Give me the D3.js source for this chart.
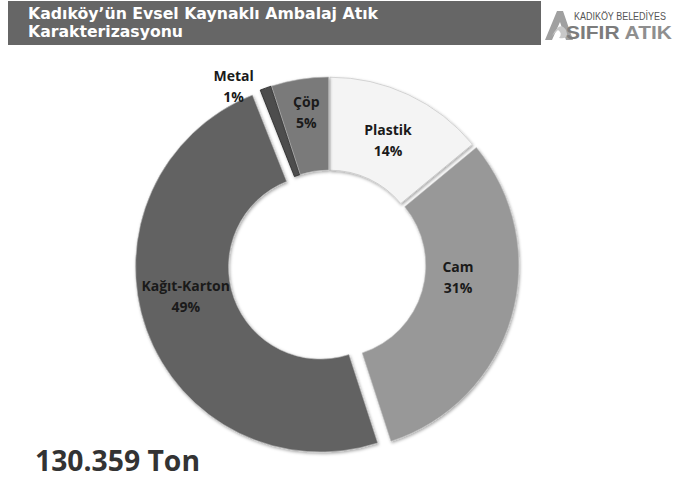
<!DOCTYPE html>
<html><head><meta charset="utf-8">
<script src="https://cdn.jsdelivr.net/npm/d3@7/dist/d3.min.js"></script>
<style>body{margin:0;background:#fff}svg{display:block}</style>
</head><body>
<script>
const categories = ["Plastik", "Cam", "Kağıt-Karton", "Metal", "Çöp"];
const values = [14, 31, 49, 1, 5];
const percentLabels = ["14%", "31%", "49%", "1%", "5%"];
const titleLines = ["Kadıköy’ün Evsel Kaynaklı Ambalaj Atık", "Karakterizasyonu"];
const totalLabel = "130.359 Ton";

const colors = ["#f4f4f4", "#989898", "#626262", "#4e4e4e", "#7a7a7a"];
const explode = [2, 5, 9, 2, 2];
const labelNudge = [[0, -1], [-4, -28], [-13, -17], [-6, 2], [-1, -17]];

const W = 674, H = 479;
const svg = d3.select("body").append("svg").attr("width", W).attr("height", H);
const defs = svg.append("defs");
const f = defs.append("filter").attr("id", "sh").attr("x", "-20%").attr("y", "-20%").attr("width", "140%").attr("height", "140%");
f.append("feDropShadow").attr("dx", 1).attr("dy", 1.5).attr("stdDeviation", 1.6).attr("flood-color", "#000").attr("flood-opacity", 0.35);

// header
svg.append("rect").attr("x", 8).attr("y", 1).attr("width", 533).attr("height", 44).attr("fill", "#666");
const tt = svg.append("text").attr("fill", "#fff").attr("font-family", "DejaVu Sans, Verdana").attr("font-weight", "bold").attr("font-size", 16);
tt.append("tspan").attr("x", 28).attr("y", 19).text(titleLines[0]).attr("textLength", 350).attr("lengthAdjust", "spacingAndGlyphs");
tt.append("tspan").attr("x", 28).attr("y", 37).text(titleLines[1]).attr("textLength", 155).attr("lengthAdjust", "spacingAndGlyphs");

// logo
const lg = svg.append("g");
lg.append("path").attr("d", "M545,40 L557,11 L563,11 L573,40 L566,40 L560,22 L552,40 Z").attr("fill", "#a0a0a0");
lg.append("path").attr("d", "M552,36 Q560,20 566,30 Q570,40 559,38 Q563,33 558,30 Q555,33 552,36 Z").attr("fill", "#c8c8c8");
lg.append("text").attr("x", 574).attr("y", 20).attr("font-family", "Liberation Sans, Arial").attr("font-size", 10).attr("fill", "#555").text("KADIKÖY BELEDİYES").attr("textLength", 92).attr("lengthAdjust", "spacingAndGlyphs");
const st = lg.append("text").attr("x", 566).attr("y", 39).attr("font-family", "Liberation Sans, Arial").attr("font-weight", "bold").attr("font-size", 19).attr("textLength", 106).attr("lengthAdjust", "spacingAndGlyphs");
st.append("tspan").attr("fill", "#7c7c7c").text("SIFIR ");
st.append("tspan").attr("fill", "#8f8f8f").text("ATIK");

// donut
const cx = 329, cy = 264, R = 185, r = 92;
const pie = d3.pie().sort(null).value(d => d)(values);
const arc = d3.arc().innerRadius(r).outerRadius(R);
const g = svg.append("g").attr("transform", `translate(${cx},${cy})`);
pie.forEach((p, i) => {
  const mid = (p.startAngle + p.endAngle) / 2;
  const dx = Math.sin(mid) * explode[i], dy = -Math.cos(mid) * explode[i];
  g.append("path").attr("d", arc(p)).attr("transform", `translate(${dx},${dy})`)
    .attr("fill", colors[i]).attr("stroke", i === 3 ? "#222" : "#bdbdbd").attr("stroke-width", i === 3 ? 0.8 : 0.6)
    .attr("filter", "url(#sh)");
});
const labelArc = d3.arc().innerRadius((r + R) / 2).outerRadius((r + R) / 2);
const outArc = d3.arc().innerRadius(R + 8).outerRadius(R + 8);
pie.forEach((p, i) => {
  let [x, y] = (i === 3 ? outArc : labelArc).centroid(p);
  if (i === 3) { x -= 24; }
  x += labelNudge[i][0]; y += labelNudge[i][1];
  const t = g.append("text").attr("text-anchor", "middle").attr("font-family", "Open Sans, sans-serif").attr("font-weight", "bold").attr("font-size", 14).attr("fill", "#1a1a1a");
  t.append("tspan").attr("x", x).attr("y", y - 3).text(categories[i]);
  t.append("tspan").attr("x", x).attr("y", y + 18).text(percentLabels[i]);
});

svg.append("text").attr("x", 35).attr("y", 471).attr("font-family", "Open Sans, sans-serif").attr("font-weight", "bold").attr("font-size", 28).attr("fill", "#333").text(totalLabel).attr("textLength", 165).attr("lengthAdjust", "spacingAndGlyphs");
</script>
</body></html>
